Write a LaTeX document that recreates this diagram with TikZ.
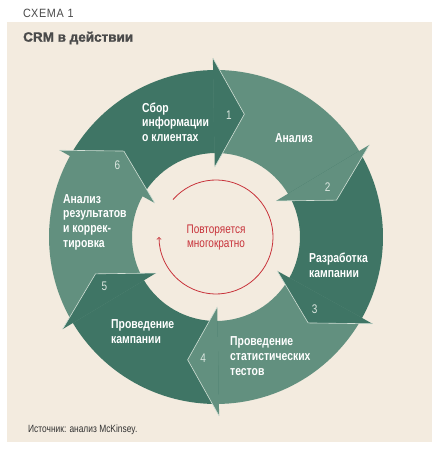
\documentclass[tikz,border=0pt]{standalone}
\usepackage{fontspec}
\setmainfont{Liberation Sans}
\newfontfamily\narrowfont{Liberation Sans}[FakeStretch=0.8]
\newfontfamily\capsfont{Liberation Sans}[FakeStretch=0.9,LetterSpace=6]
\newfontfamily\titlefont{Liberation Sans Bold}[FakeBold=1.4]
\usetikzlibrary{arrows}
\definecolor{paper}{HTML}{F3EBDF}
\definecolor{darkseg}{HTML}{3F7565}
\definecolor{lightseg}{HTML}{62907F}
\definecolor{seamcol}{HTML}{D2E0D6}
\definecolor{numcol}{HTML}{DCE7E0}
\definecolor{loopred}{HTML}{C8333B}
\definecolor{inkgray}{HTML}{4A4A4A}
\tikzset {
  % ring pieces
  dark piece/.style = {
    fill = darkseg
  },
  light piece/.style = {
    fill = lightseg
  },
  % thin light line along the front of an arrow head
  seam/.style = {
    draw = seamcol,
    line width = 0.6pt,
    line join = miter
  },
  % red loop in the middle
  repeat arrow/.style = {
    draw = loopred,
    line width = 0.8pt,
    ->
  }
}
\tikzset {
  step text/.style = {
    text = white,
    font = \narrowfont\bfseries\fontsize{13}{14.7}\selectfont,
    align = left,
    inner sep = 0
  },
  step no/.style = {
    text = numcol,
    font = \narrowfont\fontsize{12.5}{12.5}\selectfont,
    inner sep = 0
  },
  repeat text/.style = {
    text = loopred,
    font = \narrowfont\fontsize{12.5}{14}\selectfont,
    align = center,
    inner sep = 0
  },
  sheet label/.style = {
    text = inkgray,
    font = \capsfont\fontsize{12}{12}\selectfont,
    anchor = west,
    inner sep = 0
  },
  sheet title/.style = {
    text = inkgray,
    font = \titlefont\fontsize{13.5}{13.5}\selectfont,
    anchor = west,
    inner sep = 0
  },
  source/.style = {
    text = black!80,
    font = \narrowfont\fontsize{10.5}{10.5}\selectfont,
    anchor = west,
    inner sep = 0
  }
}

\begin{document}
\begin{tikzpicture}[x = 1pt, y = 1pt]
    \fill[white] (0,0) rectangle (440,450);
    \fill[paper] (7,8) rectangle (432,428);
    \node[sheet label] (scheme) at (23,437) {СХЕМА 1};
    \node[sheet title] (title) at (23,412) {CRM в действии};
    \node[source] (source) at (28,20) {Источник: анализ McKinsey.};

    \begin{scope}[shift = {(216,213)}]
      % ring bodies
      \fill[dark piece] (151:167) arc[start angle = 151, end angle = 90.6, radius = 167] -- (90.6:84) arc[start angle = 90.6, end angle = 151, radius = 84] -- cycle;
      \fill[light piece] (91:167) arc[start angle = 91, end angle = 30.6, radius = 167] -- (30.6:84) arc[start angle = 30.6, end angle = 91, radius = 84] -- cycle;
      \fill[dark piece] (31:167) arc[start angle = 31, end angle = -29.4, radius = 167] -- (-29.4:84) arc[start angle = -29.4, end angle = 31, radius = 84] -- cycle;
      \fill[light piece] (-29:167) arc[start angle = -29, end angle = -89.4, radius = 167] -- (-89.4:84) arc[start angle = -89.4, end angle = -29, radius = 84] -- cycle;
      \fill[dark piece] (-89:167) arc[start angle = -89, end angle = -149.4, radius = 167] -- (-149.4:84) arc[start angle = -149.4, end angle = -89, radius = 84] -- cycle;
      \fill[light piece] (-149:167) arc[start angle = -149, end angle = -209.4, radius = 167] -- (-209.4:84) arc[start angle = -209.4, end angle = -149, radius = 84] -- cycle;

      % arrow heads
      \fill[dark piece] (91:179) -- (77:126) -- (91:70) -- cycle;
      \draw[seam] (91:179) -- (77:126) -- (91:70);
      \fill[light piece] (31:179) -- (17:126) -- (31:70) -- cycle;
      \draw[seam] (31:179) -- (17:126) -- (31:70);
      \fill[dark piece] (-29:179) -- (-43:126) -- (-29:70) -- cycle;
      \draw[seam] (-29:179) -- (-43:126) -- (-29:70);
      \fill[light piece] (-89:179) -- (-103:126) -- (-89:70) -- cycle;
      \draw[seam] (-89:179) -- (-103:126) -- (-89:70);
      \fill[dark piece] (-149:179) -- (-163:126) -- (-149:70) -- cycle;
      \draw[seam] (-149:179) -- (-163:126) -- (-149:70);
      \fill[light piece] (151:179) -- (137:126) -- (151:70) -- cycle;
      \draw[seam] (151:179) -- (137:126) -- (151:70);

      % step numbers
      \node[step no] (no1) at (83.9:122) {1};
      \node[step no] (no2) at (23.9:122) {2};
      \node[step no] (no3) at (-36.1:122) {3};
      \node[step no] (no4) at (-96.1:122) {4};
      \node[step no] (no5) at (-156.1:122) {5};
      \node[step no] (no6) at (143.9:122) {6};

      % repeat loop
      \draw[repeat arrow] (139:57) arc[start angle = 139, end angle = -180, radius = 57];
      \node[repeat text] (repeat) at (0,0) {Повторяется\\многократно};
    \end{scope}

    \node[step text, anchor = west] (collect) at (142,328) {Сбор\\информации\\о клиентах};
    \node[step text] (analysis) at (294,312) {Анализ};
    \node[step text, anchor = west] (design) at (309,184.5) {Разработка\\кампании};
    \node[step text, anchor = west] (tests) at (230,94) {Проведение\\статистических\\тестов};
    \node[step text, anchor = west] (run) at (111,118.5) {Проведение\\кампании};
    \node[step text, anchor = west] (review) at (63,228) {Анализ\\результатов\\и коррек-\\тировка};
\end{tikzpicture}
\end{document}
